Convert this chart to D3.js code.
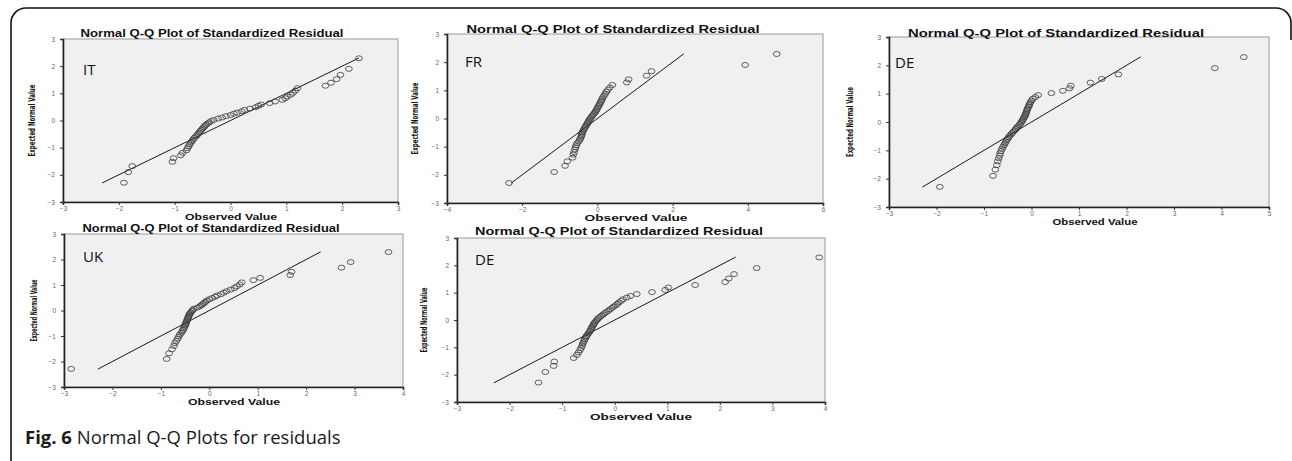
<!DOCTYPE html>
<html>
<head>
<meta charset="utf-8">
<script src="https://cdn.jsdelivr.net/npm/d3@7"></script>
<style>
  body { margin: 0; background: #fff; }
  svg { display: block; }
</style>
</head>
<body>
<div id="wrapper"></div>
<script>
// expected normal quantiles (y of every point), shared by all panels
const expectedNormal = [-2.29, -1.90, -1.68, -1.52, -1.39, -1.28, -1.19, -1.10, -1.02, -0.95,
  -0.88, -0.82, -0.76, -0.70, -0.64, -0.59, -0.54, -0.49, -0.44, -0.39, -0.34, -0.29, -0.25,
  -0.20, -0.16, -0.11, -0.07, -0.02, 0.02, 0.07, 0.11, 0.16, 0.20, 0.25, 0.29, 0.34, 0.39,
  0.44, 0.49, 0.54, 0.59, 0.64, 0.70, 0.76, 0.82, 0.88, 0.95, 1.02, 1.10, 1.19, 1.28, 1.39,
  1.52, 1.68, 1.90, 2.29]

// observed standardized residuals, sorted
const itObserved = [-1.91, -1.83, -1.76, -1.04, -1.02, -0.89, -0.86, -0.79, -0.77, -0.75,
  -0.73, -0.71, -0.69, -0.67, -0.65, -0.62, -0.60, -0.58, -0.56, -0.54, -0.52, -0.50, -0.48,
  -0.46, -0.44, -0.41, -0.38, -0.35, -0.30, -0.22, -0.15, -0.08, 0.00, 0.06, 0.12, 0.20, 0.25,
  0.35, 0.45, 0.50, 0.55, 0.70, 0.80, 0.93, 0.98, 1.02, 1.08, 1.12, 1.16, 1.20, 1.70, 1.80,
  1.90, 1.97, 2.12, 2.30]
const frObserved = [-2.35, -1.15, -0.86, -0.80, -0.66, -0.64, -0.62, -0.60, -0.58, -0.56,
  -0.54, -0.50, -0.47, -0.45, -0.43, -0.42, -0.41, -0.40, -0.38, -0.36, -0.34, -0.32, -0.30,
  -0.28, -0.26, -0.24, -0.22, -0.20, -0.18, -0.15, -0.13, -0.10, -0.07, -0.05, -0.03, -0.01,
  0.01, 0.03, 0.05, 0.07, 0.09, 0.11, 0.13, 0.15, 0.18, 0.21, 0.24, 0.28, 0.33, 0.40, 0.78,
  0.83, 1.31, 1.44, 3.93, 4.77]
const deObserved = [-1.93, -0.81, -0.76, -0.73, -0.71, -0.69, -0.67, -0.66, -0.64, -0.62,
  -0.60, -0.58, -0.56, -0.54, -0.52, -0.50, -0.48, -0.46, -0.43, -0.41, -0.38, -0.35, -0.33,
  -0.31, -0.29, -0.26, -0.24, -0.22, -0.20, -0.19, -0.17, -0.16, -0.14, -0.13, -0.12, -0.11,
  -0.10, -0.09, -0.08, -0.06, -0.05, -0.04, -0.02, 0.00, 0.03, 0.08, 0.14, 0.42, 0.66, 0.80,
  0.83, 1.24, 1.48, 1.83, 3.86, 4.47]
const ukObserved = [-2.85, -0.88, -0.83, -0.77, -0.73, -0.71, -0.68, -0.65, -0.63, -0.61,
  -0.58, -0.56, -0.54, -0.53, -0.51, -0.50, -0.49, -0.48, -0.47, -0.46, -0.45, -0.44, -0.43,
  -0.42, -0.41, -0.40, -0.38, -0.36, -0.34, -0.32, -0.25, -0.20, -0.17, -0.14, -0.11, -0.08,
  -0.05, 0.00, 0.06, 0.12, 0.16, 0.24, 0.30, 0.36, 0.44, 0.52, 0.57, 0.63, 0.67, 0.91, 1.05,
  1.67, 1.70, 2.73, 2.92, 3.70]
const de2Observed = [-1.45, -1.32, -1.16, -1.15, -0.78, -0.72, -0.69, -0.66, -0.64, -0.62,
  -0.61, -0.60, -0.58, -0.57, -0.55, -0.54, -0.52, -0.50, -0.48, -0.47, -0.45, -0.44, -0.43,
  -0.41, -0.40, -0.39, -0.37, -0.35, -0.33, -0.31, -0.28, -0.25, -0.22, -0.19, -0.16, -0.12,
  -0.09, -0.05, -0.02, 0.02, 0.05, 0.08, 0.12, 0.16, 0.23, 0.30, 0.42, 0.71, 0.96, 1.02, 1.53,
  2.10, 2.17, 2.27, 2.70, 3.89]

// reference diagonal (observed = expected)
const refLine = [-2.3, 2.3]

const countryLabels = ["IT", "FR", "DE", "UK", "DE"]
const xDomains = [[-3, 3], [-4, 6], [-3, 5], [-3, 4], [-3, 4]]
const xTickValues = [
  [-3, -2, -1, 0, 1, 2, 3],
  [-4, -2, 0, 2, 4, 6],
  [-3, -2, -1, 0, 1, 2, 3, 4, 5],
  [-3, -2, -1, 0, 1, 2, 3, 4],
  [-3, -2, -1, 0, 1, 2, 3, 4]
]
const yTickValues = [-3, -2, -1, 0, 1, 2, 3]
const chartTitle = "Normal Q-Q Plot of Standardized Residual"
const xTitle = "Observed Value"
const yTitle = "Expected Normal Value"
const captionBold = "Fig. 6"
const captionText = " Normal Q-Q Plots for residuals"

const observedSets = [itObserved, frObserved, deObserved, ukObserved, de2Observed]

// layout of each panel on the page
const panels = [
  { left: 63, right: 398, top: 39, bottom: 202, titleX: 212, titleY: 37, titleW: 263, xLabX: 231, xLabW: 92, yLabX: 35, yLabLen: 72, tagX: 83, tagY: 75 },
  { left: 447, right: 823, top: 34, bottom: 203, titleX: 613, titleY: 33, titleW: 293, xLabX: 636, xLabW: 103, yLabX: 418, yLabLen: 72, tagX: 465, tagY: 67 },
  { left: 889, right: 1269, top: 37, bottom: 207, titleX: 1056, titleY: 37, titleW: 296, xLabX: 1095, xLabW: 85, yLabX: 853, yLabLen: 70, tagX: 895, tagY: 68 },
  { left: 64, right: 403, top: 234, bottom: 387, titleX: 211, titleY: 232, titleW: 257, xLabX: 234, xLabW: 92, yLabX: 37, yLabLen: 62, tagX: 83, tagY: 262 },
  { left: 457, right: 825, top: 238, bottom: 402, titleX: 619, titleY: 235, titleW: 288, xLabX: 641, xLabW: 102, yLabX: 427, yLabLen: 65, tagX: 475, tagY: 265 }
]

const width = 1292
const height = 461

const svg = d3.select("#wrapper")
  .append("svg")
  .attr("width", width)
  .attr("height", height)

// outer frame: left edge and rounded top
svg.append("path")
  .attr("d", "M11,470 V23 A15,15 0 0 1 26,8 H1276 A15,15 0 0 1 1291,23 V40")
  .attr("fill", "none")
  .attr("stroke", "#111")
  .attr("stroke-width", 1.6)

function drawPanel(p, i) {
  const observed = observedSets[i]
  const points = observed.map((d, j) => ({ x: d, y: expectedNormal[j] }))

  const xScale = d3.scaleLinear().domain(xDomains[i]).range([p.left, p.right])
  const yScale = d3.scaleLinear().domain([-3, 3]).range([p.bottom, p.top])

  const g = svg.append("g")

  g.append("rect")
    .attr("x", p.left)
    .attr("y", p.top)
    .attr("width", p.right - p.left)
    .attr("height", p.bottom - p.top)
    .attr("fill", "#f0f0f0")
    .attr("stroke", "#9a9a9a")
    .attr("stroke-width", 1)

  const yAxis = g.append("g")
    .attr("transform", `translate(${p.left},0)`)
    .call(d3.axisLeft(yScale).tickValues(yTickValues).tickFormat(d3.format("d")).tickSize(3).tickPadding(5))
  const xAxis = g.append("g")
    .attr("transform", `translate(0,${p.bottom})`)
    .call(d3.axisBottom(xScale).tickValues(xTickValues[i]).tickFormat(d3.format("d")).tickSize(3).tickPadding(1))

  ;[yAxis, xAxis].forEach(ax => {
    ax.select(".domain").attr("stroke", "#222").attr("stroke-width", 1.6)
    ax.selectAll(".tick line").attr("stroke", "#333")
    ax.selectAll(".tick text")
      .attr("fill", "#666")
      .style("font-family", "Liberation Sans, Arial, sans-serif")
      .style("font-size", "6.5px")
  })

  // diagonal reference line
  g.append("line")
    .attr("x1", xScale(refLine[0]))
    .attr("y1", yScale(refLine[0]))
    .attr("x2", xScale(refLine[1]))
    .attr("y2", yScale(refLine[1]))
    .attr("stroke", "#1a1a1a")
    .attr("stroke-width", 1)

  g.selectAll("ellipse.pt")
    .data(points)
    .enter().append("ellipse")
    .attr("class", "pt")
    .attr("cx", d => xScale(d.x))
    .attr("cy", d => yScale(d.y))
    .attr("rx", 3.4)
    .attr("ry", 2.5)
    .attr("fill", "none")
    .attr("stroke", "#3a3a3a")
    .attr("stroke-width", 0.8)

  // titles
  g.append("text")
    .attr("x", p.titleX)
    .attr("y", p.titleY)
    .attr("text-anchor", "middle")
    .attr("textLength", p.titleW)
    .attr("lengthAdjust", "spacingAndGlyphs")
    .style("font-family", "Liberation Sans, Arial, sans-serif")
    .style("font-weight", "bold")
    .style("font-size", "10.5px")
    .attr("fill", "#111")
    .text(chartTitle)

  g.append("text")
    .attr("x", p.xLabX)
    .attr("y", p.bottom + 18)
    .attr("text-anchor", "middle")
    .attr("textLength", p.xLabW)
    .attr("lengthAdjust", "spacingAndGlyphs")
    .style("font-family", "Liberation Sans, Arial, sans-serif")
    .style("font-weight", "bold")
    .style("font-size", "9px")
    .attr("fill", "#111")
    .text(xTitle)

  g.append("text")
    .attr("transform", `translate(${p.yLabX},${(p.top + p.bottom) / 2}) rotate(-90)`)
    .attr("text-anchor", "middle")
    .attr("textLength", p.yLabLen)
    .attr("lengthAdjust", "spacingAndGlyphs")
    .style("font-family", "DejaVu Sans Condensed, DejaVu Sans, sans-serif")
    .style("font-weight", "bold")
    .style("font-size", "9px")
    .attr("fill", "#111")
    .text(yTitle)

  g.append("text")
    .attr("x", p.tagX)
    .attr("y", p.tagY)
    .style("font-family", "Open Sans, sans-serif")
    .style("font-size", "15px")
    .attr("fill", "#111")
    .text(countryLabels[i])
}

panels.forEach(drawPanel)

const caption = svg.append("text")
  .attr("x", 25)
  .attr("y", 444)
  .style("font-family", "Open Sans, sans-serif")
  .style("font-size", "18.5px")
  .attr("fill", "#1a1a1a")
caption.append("tspan").style("font-weight", "bold").text(captionBold)
caption.append("tspan").text(captionText)
</script>
</body>
</html>
